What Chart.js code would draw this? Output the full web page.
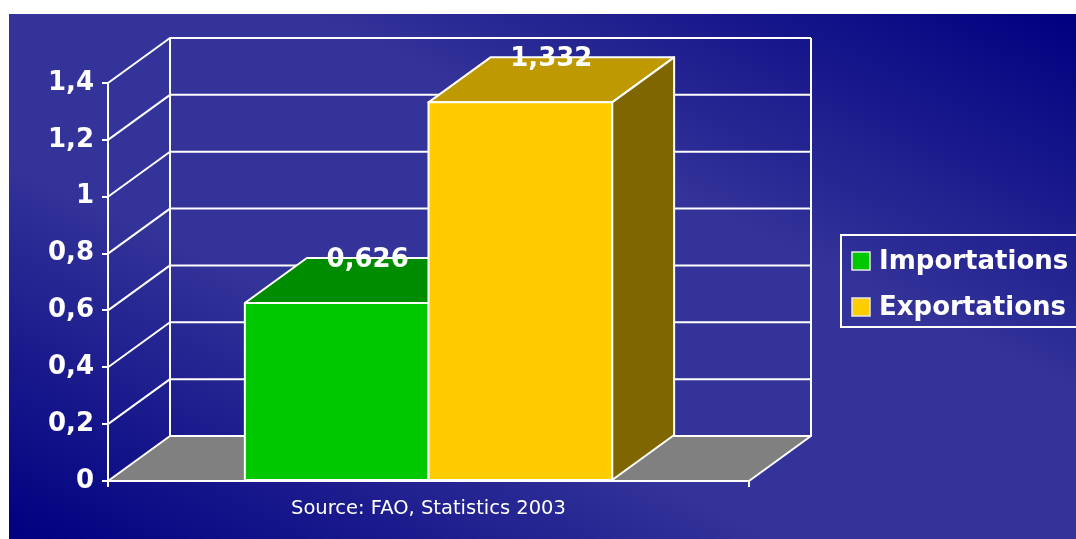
<!DOCTYPE html>
<html>
<head>
<meta charset="utf-8">
<script src="https://cdn.jsdelivr.net/npm/chart.js@4/dist/chart.umd.min.js"></script>
<style>
  html, body { margin: 0; padding: 0; background: #fff; }
  canvas { display: block; }
</style>
</head>
<body>
<canvas id="tradeChart" width="1076" height="539"></canvas>
<script>
// data
const categories = ['Source: FAO, Statistics 2003'];
const seriesNames = ['Importations', 'Exportations'];
const importations = [0.626];
const exportations = [1.332];
const yMin = 0, yMax = 1.4, yStep = 0.2;

// styles
const FONT = "'DejaVu Sans', Verdana, sans-serif";
const frontColors = ['#00C800', '#FFCC00'];
const topColors = ['#008C00', '#BF9900'];
const sideColors = ['#006400', '#806600'];
const DX = 62, DY = -45;   // depth of the 3d box

function comma(v){
    return (Math.round(v * 1000) / 1000).toString().replace('.', ',');
}

function poly(ctx, pts, fill){
    ctx.beginPath();
    ctx.moveTo(pts[0][0], pts[0][1]);
    for (let i = 1; i < pts.length; i++) ctx.lineTo(pts[i][0], pts[i][1]);
    ctx.closePath();
    if (fill){ ctx.fillStyle = fill; ctx.fill(); }
    ctx.stroke();
}

const backdrop = {
    id: 'backdrop',
    beforeDraw(chart){
        const ctx = chart.ctx;
        ctx.save();
        ctx.fillStyle = '#fff';
        ctx.fillRect(0, 0, chart.width, chart.height);
        // diagonal gradient, drawn in a unit square so the bands follow the box diagonal
        const x0 = 9, y0 = 14, w = chart.width - 9, h = chart.height - 14;
        ctx.translate(x0, y0);
        ctx.scale(w, h);
        const g = ctx.createLinearGradient(1, 0, 0, 1);
        g.addColorStop(0, '#000080');
        g.addColorStop(0.36, '#333399');
        g.addColorStop(0.64, '#333399');
        g.addColorStop(1, '#000080');
        ctx.fillStyle = g;
        ctx.fillRect(0, 0, 1, 1);
        ctx.restore();
    }
};

const box3d = {
    id: 'box3d',
    beforeDatasetsDraw(chart){
        const ctx = chart.ctx;
        const ys = chart.scales.y;
        const a = chart.chartArea;
        const y0 = ys.getPixelForValue(0);
        ctx.save();
        ctx.strokeStyle = '#fff';
        ctx.lineWidth = 2;
        ctx.lineJoin = 'round';

        // back wall + left wall grid
        ys.ticks.forEach(t => {
            const y = ys.getPixelForValue(t.value);
            if (t.value === 0) return;
            ctx.beginPath();
            ctx.moveTo(a.left, y);
            ctx.lineTo(a.left + DX, y + DY);
            ctx.lineTo(a.right + DX, y + DY);
            ctx.stroke();
        });
        ctx.beginPath();
        ctx.moveTo(a.left + DX, a.top + DY);
        ctx.lineTo(a.left + DX, y0 + DY);
        ctx.moveTo(a.right + DX, a.top + DY);
        ctx.lineTo(a.right + DX, y0 + DY);
        ctx.stroke();

        // floor
        poly(ctx, [[a.left, y0], [a.right, y0], [a.right + DX, y0 + DY], [a.left + DX, y0 + DY]], '#808080');

        // bars, first series first so the second one hides its side
        chart.data.datasets.forEach((ds, i) => {
            const meta = chart.getDatasetMeta(i);
            meta.data.forEach(el => {
                const p = el.getProps(['x', 'y', 'base', 'width'], true);
                const L = p.x - p.width / 2, R = p.x + p.width / 2, T = p.y, B = p.base;
                poly(ctx, [[L, T], [L + DX, T + DY], [R + DX, T + DY], [R, T]], topColors[i]);
                poly(ctx, [[R, T], [R + DX, T + DY], [R + DX, B + DY], [R, B]], sideColors[i]);
                poly(ctx, [[L, T], [R, T], [R, B], [L, B]], frontColors[i]);
            });
        });

        // value labels
        ctx.fillStyle = '#fff';
        ctx.font = 'bold 26px ' + FONT;
        ctx.textAlign = 'center';
        ctx.textBaseline = 'middle';
        chart.data.datasets.forEach((ds, i) => {
            chart.getDatasetMeta(i).data.forEach((el, j) => {
                const p = el.getProps(['x', 'y'], true);
                ctx.fillText(comma(ds.data[j]), p.x + DX / 2, p.y + DY + 2);
            });
        });
        ctx.restore();
        return false;
    },
    afterDraw(chart){
        // legend box
        const ctx = chart.ctx;
        ctx.save();
        ctx.strokeStyle = '#fff';
        ctx.lineWidth = 2;
        ctx.strokeRect(841, 235, 260, 92);
        ctx.font = 'bold 26px ' + FONT;
        ctx.textBaseline = 'middle';
        ctx.textAlign = 'left';
        chart.data.datasets.forEach((ds, i) => {
            const y = 252 + i * 46;
            ctx.fillStyle = frontColors[i];
            ctx.fillRect(852, y, 18, 18);
            ctx.lineWidth = 1.5;
            ctx.strokeStyle = '#e8e8e8';
            ctx.strokeRect(852, y, 18, 18);
            ctx.fillStyle = '#fff';
            ctx.fillText(ds.label, 879, y + 10);
        });
        ctx.restore();
    }
};

new Chart(document.getElementById('tradeChart'), {
    type: 'bar',
    data: {
        labels: categories,
        datasets: [
            { label: seriesNames[0], data: importations, backgroundColor: frontColors[0], borderColor: '#fff', borderWidth: 2 },
            { label: seriesNames[1], data: exportations, backgroundColor: frontColors[1], borderColor: '#fff', borderWidth: 2 }
        ]
    },
    options: {
        responsive: false,
        animation: false,
        devicePixelRatio: 1,
        layout: { padding: { left: 9, top: 83, right: 327, bottom: 0 } },
        datasets: { bar: { barPercentage: 1, categoryPercentage: 0.573 } },
        plugins: { legend: { display: false }, tooltip: { enabled: false } },
        scales: {
            x: {
                afterFit: s => { s.height = 58; },
                grid: { drawOnChartArea: false, offset: true, tickLength: 6, color: '#fff', lineWidth: 2 },
                border: { color: '#fff', width: 2 },
                ticks: { color: '#fff', padding: 10, font: { family: FONT, size: 19.5 } }
            },
            y: {
                min: yMin,
                max: yMax,
                afterFit: s => { s.width = 99; },
                grid: { drawOnChartArea: false, tickLength: 6, color: '#fff', lineWidth: 2 },
                border: { color: '#fff', width: 2 },
                ticks: {
                    stepSize: yStep,
                    color: '#fff',
                    padding: 8,
                    font: { family: FONT, size: 26, weight: 'bold' },
                    callback: v => comma(Math.round(v * 10) / 10)
                }
            }
        }
    },
    plugins: [backdrop, box3d]
});
</script>
</body>
</html>
